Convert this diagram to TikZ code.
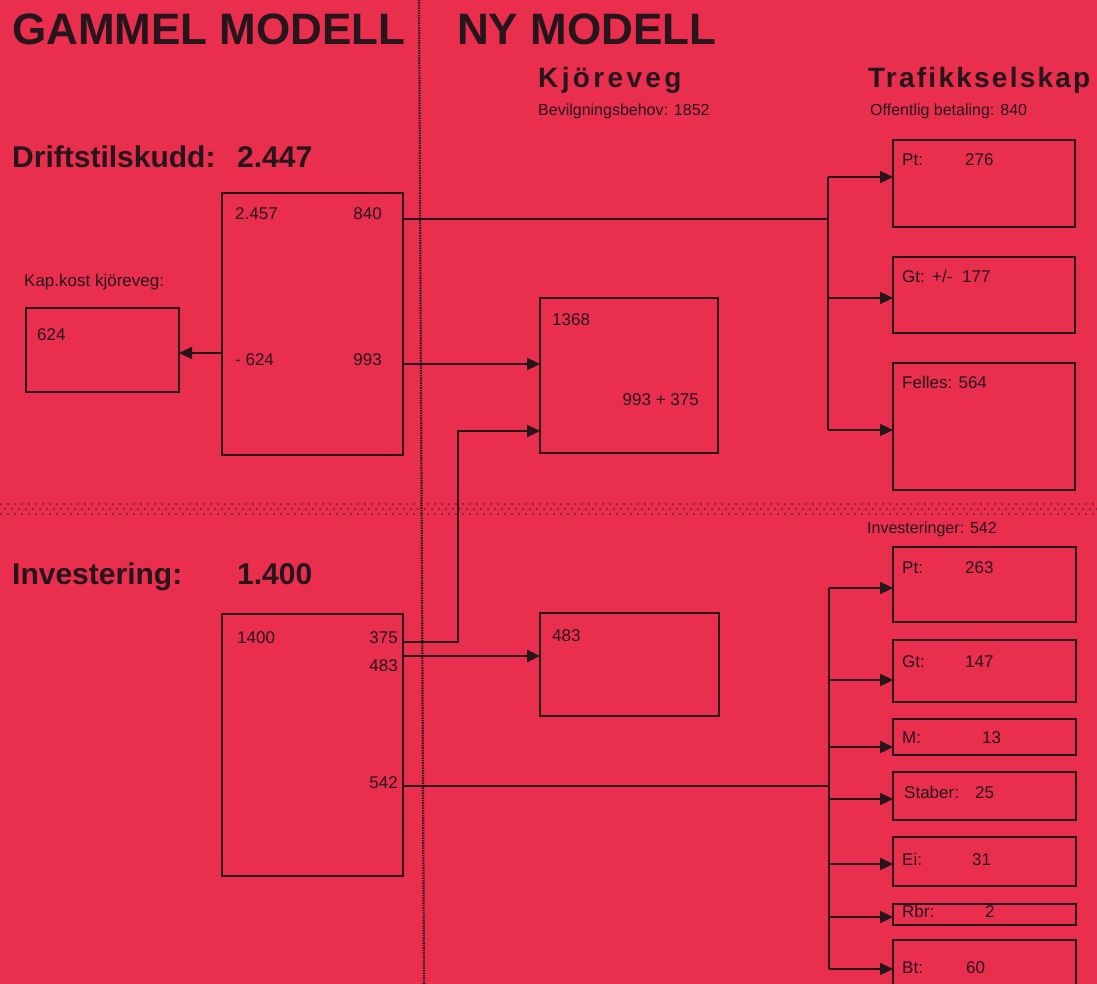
\documentclass[tikz,border=0pt]{standalone}
\usepackage{fontspec}
\setmainfont{Liberation Sans}
\usetikzlibrary{arrows.meta}
\definecolor{bg}{RGB}{234,46,78}
\definecolor{ink}{RGB}{38,22,28}
\definecolor{dotc}{RGB}{160,30,55}
\begin{document}
\begin{tikzpicture}[x=1pt,y=-1pt,
  box/.style={draw=ink,line width=2.6pt,inner sep=0pt,outer sep=0pt,anchor=north west},
  con/.style={draw=ink,line width=2.3pt},
  arr/.style={con,-{Triangle[length=13pt,width=12pt]}},
  txt/.style={text=ink,inner sep=0pt,anchor=base west,font=\fontsize{17}{17}\selectfont},
  rtxt/.style={txt,anchor=base east},
  lab/.style={txt,font=\fontsize{16}{16}\selectfont},
  big/.style={text=ink,inner sep=0pt,anchor=base west,font=\fontsize{44}{44}\selectfont\bfseries},
  mid/.style={text=ink,inner sep=0pt,anchor=base west,font=\fontsize{30}{30}\selectfont\bfseries},
  head/.style={text=ink,inner sep=0pt,anchor=base west,font=\fontsize{28}{28}\selectfont\bfseries\addfontfeature{LetterSpace=#1}}]
\useasboundingbox (0,0) rectangle (1097,984);
\clip (0,0) rectangle (1097,984);
\fill[bg] (0,0) rectangle (1097,984);

% dotted band and dividing line
\foreach \yy/\ph in {504/0pt,509/3.5pt,514/0pt}
  \draw[dotc,line width=2.2pt,dash pattern=on 2pt off 5pt,dash phase=\ph] (0,\yy) -- (1097,\yy);
\draw[ink,line width=2.2pt,dash pattern=on 1.3pt off 1.2pt] (419,0) -- (424,984);

% titles
\node[big] (tOld) at (12,45) {GAMMEL MODELL};
\node[big] (tNew) at (457,45) {NY MODELL};
\node[head=12] (tKv) at (538,88) {Kjöreveg};
\node[head=8] (tTs) at (868,88) {Trafikkselskap};
\node[lab] (tBev) at (538,116) {Bevilgningsbehov: 1852};
\node[lab] (tOff) at (870,116) {Offentlig betaling: 840};
\node[mid] (tDr) at (12,168) {Driftstilskudd:};
\node[mid] (tDrV) at (237,168) {2.447};
\node[mid] (tInv) at (12,584) {Investering:};
\node[mid] (tInvV) at (237,584) {1.400};
\node[lab] (tInvT) at (867,533) {Investeringer: 542};
\node[txt] (tKap) at (24,287) {Kap.kost kjöreveg:};

% boxes
\node[box,minimum width=153pt,minimum height=84pt] (B0) at (26,308) {};
\node[box,minimum width=181pt,minimum height=262pt] (B1) at (222,193) {};
\node[box,minimum width=178pt,minimum height=155pt] (B2) at (540,298) {};
\node[box,minimum width=181pt,minimum height=262pt] (B3) at (222,614) {};
\node[box,minimum width=179pt,minimum height=103pt] (B4) at (540,613) {};
\node[box,minimum width=182pt,minimum height=87pt] (T1) at (893,140) {};
\node[box,minimum width=182pt,minimum height=76pt] (T2) at (893,257) {};
\node[box,minimum width=182pt,minimum height=127pt] (T3) at (893,363) {};
\node[box,minimum width=183pt,minimum height=75pt] (I1) at (893,547) {};
\node[box,minimum width=183pt,minimum height=62pt] (I2) at (893,640) {};
\node[box,minimum width=183pt,minimum height=36pt] (I3) at (893,719) {};
\node[box,minimum width=183pt,minimum height=48pt] (I4) at (893,772) {};
\node[box,minimum width=183pt,minimum height=49pt] (I5) at (893,837) {};
\node[box,minimum width=183pt,minimum height=21pt] (I6) at (893,904) {};
\node[box,minimum width=183pt,minimum height=80pt] (I7) at (893,940) {};

% box texts
\node[txt] (x0) at (37,340) {624};
\node[txt] (x1a) at (235,220) {2.457};
\node[rtxt] (x1b) at (382,220) {840};
\node[txt] (x1c) at (235,365) {- 624};
\node[rtxt] (x1d) at (382,365) {993};
\node[txt] (x2a) at (552,325) {1368};
\node[rtxt] (x2b) at (699,405) {993 + 375};
\node[txt] (x3a) at (237,643) {1400};
\node[rtxt] (x3b) at (398,643) {375};
\node[rtxt] (x3c) at (398,671) {483};
\node[rtxt] (x3d) at (398,788) {542};
\node[txt] (x4a) at (552,641) {483};
\node[txt] (xT1a) at (902,166) {Pt:};
\node[txt] (xT1b) at (965,166) {276};
\node[txt] (xT2a) at (902,283) {Gt:};
\node[txt] (xT2b) at (932,283) {+/-};
\node[txt] (xT2c) at (962,283) {177};
\node[txt] (xT3a) at (902,388) {Felles: 564};
\node[txt] (xI1a) at (902,573) {Pt:};
\node[txt] (xI1b) at (965,573) {263};
\node[txt] (xI2a) at (902,667) {Gt:};
\node[txt] (xI2b) at (965,667) {147};
\node[txt] (xI3a) at (902,743) {M:};
\node[txt] (xI3b) at (982,743) {13};
\node[txt] (xI4a) at (904,798) {Staber:};
\node[txt] (xI4b) at (975,798) {25};
\node[txt] (xI5a) at (902,865) {Ei:};
\node[txt] (xI5b) at (972,865) {31};
\node[txt] (xI6a) at (902,917) {Rbr:};
\node[txt] (xI6b) at (985,917) {2};
\node[txt] (xI7a) at (902,973) {Bt:};
\node[txt] (xI7b) at (966,973) {60};

% connector coordinates
\coordinate (m624) at (0,353);
\coordinate (m993) at (0,364);
\coordinate (uJ) at (828,219);
\coordinate (uT1) at (828,177);
\coordinate (uT2) at (828,298);
\coordinate (uT3) at (828,430);
\coordinate (k1) at (458,642);
\coordinate (k2) at (458,431);
\coordinate (m483) at (0,656);
\coordinate (lJ) at (829,786);
\coordinate (lT1) at (829,588);
\coordinate (lT2) at (829,680);
\coordinate (lT3) at (829,747);
\coordinate (lT4) at (829,799);
\coordinate (lT5) at (829,864);
\coordinate (lT6) at (829,917);
\coordinate (lT7) at (829,969);

% connectors
\draw[arr] (B1.west |- m624) -- (B0.east |- m624);
\draw[arr] (B1.east |- m993) -- (B2.west |- m993);
\draw[con] (B1.east |- uJ) -- (uJ);
\draw[con] (uT1) -- (uT3);
\draw[arr] (uT1) -- (T1.west |- uT1);
\draw[arr] (uT2) -- (T2.west |- uT2);
\draw[arr] (uT3) -- (T3.west |- uT3);
\draw[arr] (B3.east |- k1) -- (k1) -- (k2) -- (B2.west |- k2);
\draw[arr] (B3.east |- m483) -- (B4.west |- m483);
\draw[con] (B3.east |- lJ) -- (lJ);
\draw[con] (lT1) -- (lT7);
\draw[arr] (lT1) -- (I1.west |- lT1);
\draw[arr] (lT2) -- (I2.west |- lT2);
\draw[arr] (lT3) -- (I3.west |- lT3);
\draw[arr] (lT4) -- (I4.west |- lT4);
\draw[arr] (lT5) -- (I5.west |- lT5);
\draw[arr] (lT6) -- (I6.west |- lT6);
\draw[arr] (lT7) -- (I7.west |- lT7);
\end{tikzpicture}
\end{document}
